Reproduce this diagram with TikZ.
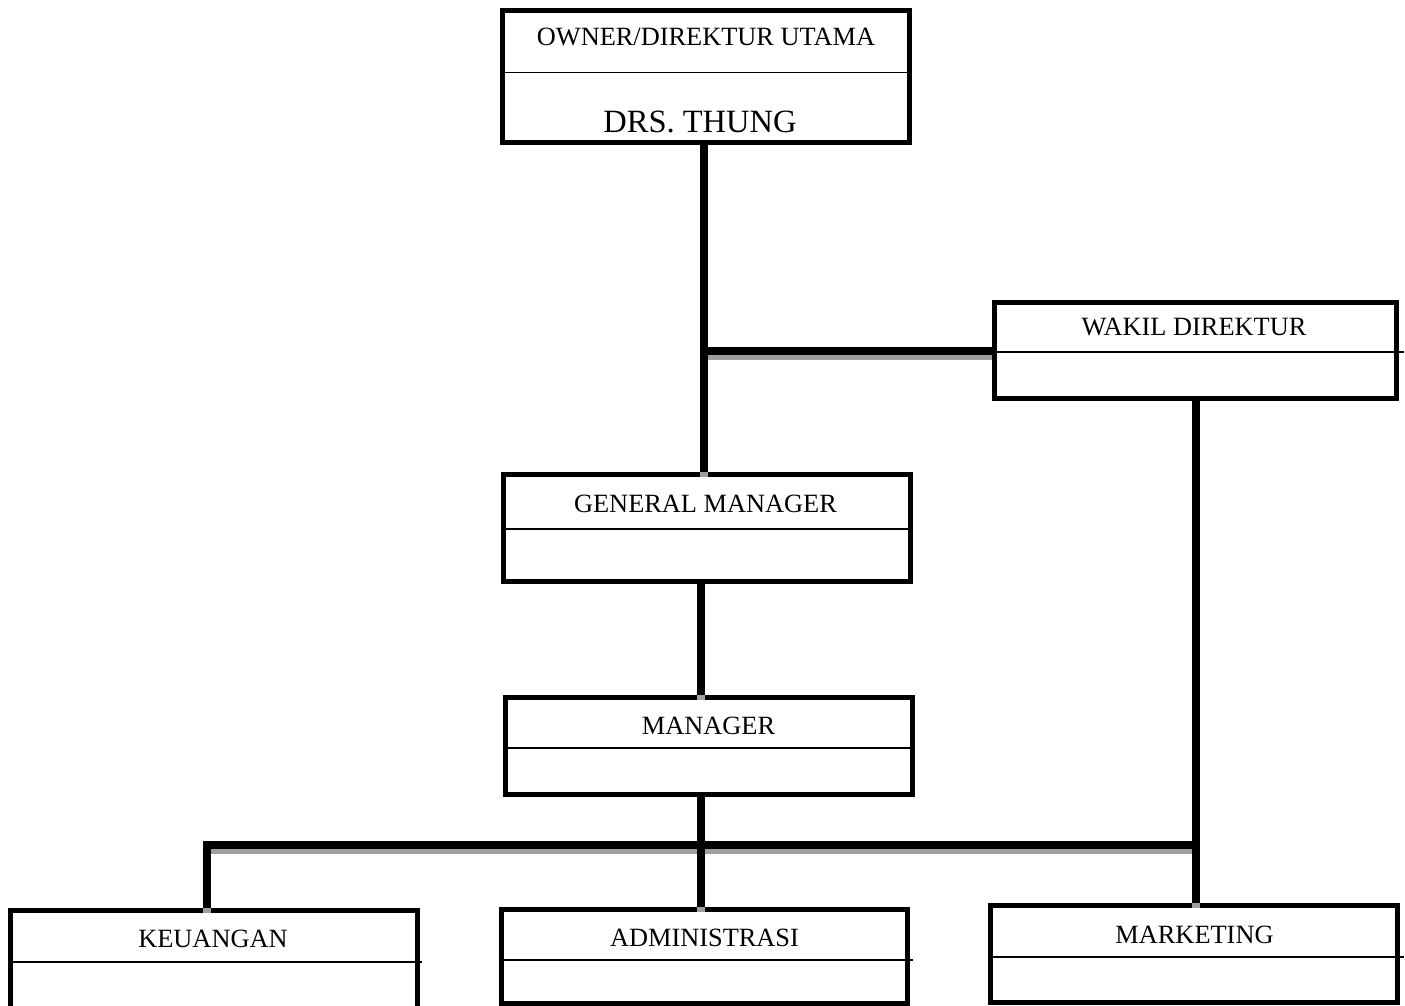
\documentclass[tikz,border=0pt]{standalone}
\usepackage{fontspec}
\setmainfont{Liberation Serif}
\usetikzlibrary{positioning}
\usetikzlibrary{calc}
\tikzset{every picture/.style={x=0.02cm,y=-0.02cm}}

\begin{document}
\begin{tikzpicture}[box/.style={draw, line width=0.1cm, minimum width=8.14cm, inner sep=0pt},ttl/.style={anchor=base, inner sep=0pt, font=\fontsize{15}{18}\selectfont},conn/.style={line width=0.16cm},divline/.style={line width=0.03cm}]
\useasboundingbox (0,0) rectangle (1405,1005);
\clip (0,0) rectangle (1405,1005);
\node (owner) at (706,76.5) [box,minimum height=2.66cm] {};
\node (wakil) at (1195.5,350) [box,minimum width=8.06cm,minimum height=1.92cm] {};
\node (gm) at (707,528) [box,minimum height=2.13cm] {};
\node (mgr) at (709,746) [box,minimum width=8.16cm,minimum height=1.95cm] {};
\node (keu) at (214,959) [box,minimum width=8.15cm,minimum height=1.96cm] {};
\node (adm) at (704.5,956) [box,minimum height=1.88cm] {};
\node (mkt) at (1194,953.75) [box,minimum height=1.93cm] {};
\foreach \b/\dy/\xe in {owner/72.7/912, wakil/352/1404, gm/529/909, mgr/748/911, keu/962/422, adm/960/913, mkt/957/1404}
  \draw[divline] (\b.west |- 0,\dy) -- (\xe,\dy);
\node (ownert) at (706,45) [ttl] {OWNER/DIREKTUR UTAMA};
\node (thung) at (700,132) [ttl,font=\fontsize{18.5}{22}\selectfont] {DRS. THUNG};
\node (wakilt) at (1194,335) [ttl] {WAKIL DIREKTUR};
\node (gmt) at (705.5,512) [ttl] {GENERAL MANAGER};
\node (mgrt) at (708.5,734) [ttl] {MANAGER};
\node (keut) at (213,947) [ttl] {KEUANGAN};
\node (admt) at (704.5,946) [ttl] {ADMINISTRASI};
\node (mktt) at (1194.5,943) [ttl] {MARKETING};
\coordinate (j1) at (703.5,351);
\coordinate (j2) at (206.5,844.5);
\coordinate (j3) at (701,844.5);
% gray shadow first, then the black line on top
\foreach \sh/\col in {-0.1cm/gray!75, 0cm/black} {
\begin{scope}[transform canvas={yshift=\sh}]
\draw[conn,draw=\col] (j1) -- (j1 -| wakil.west);
\draw[conn,draw=\col] (j2 |- keu.north) -- (j2) -- (wakil.south |- j2);
\draw[conn,draw=\col] (owner.south -| j1) -- (gm.north -| j1);
\draw[conn,draw=\col] (gm.south -| j3) -- (mgr.north -| j3);
\draw[conn,draw=\col] (mgr.south -| j3) -- (adm.north -| j3);
\draw[conn,draw=\col] (wakil.south) -- (wakil.south |- mkt.north);
\end{scope}
}
\end{tikzpicture}
\end{document}
